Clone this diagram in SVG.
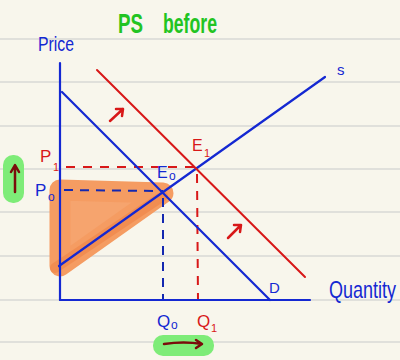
<svg xmlns="http://www.w3.org/2000/svg" width="400" height="360" viewBox="0 0 400 360">
<defs>
<style>
.rule{stroke:#d9d9d6;stroke-width:1.5}
.blue{stroke:#1428d2;stroke-width:2.2;fill:none;stroke-linecap:round}
.red{stroke:#d81818;stroke-width:2;fill:none;stroke-linecap:round}
.dashr{stroke:#d81818;stroke-width:2;stroke-dasharray:9 8;fill:none}
.dashb{stroke:#1428b0;stroke-width:2;stroke-dasharray:9 7;fill:none}
.arr{stroke:#d81818;stroke-width:2.5;fill:none;stroke-linecap:round;stroke-linejoin:round}
.darr{stroke:#7a0c0c;stroke-width:2.5;fill:none;stroke-linecap:round;stroke-linejoin:round}
text{font-family:"Liberation Sans","DejaVu Sans",sans-serif}
.tb{fill:#1428d2}
.tr{fill:#d81818}
.tg{fill:#22c422;font-weight:bold}
</style>
</defs>
<rect width="400" height="360" fill="#f8f6ec"/>
<g id="ruling">
<line class="rule" x1="0" y1="39" x2="400" y2="39"/>
<line class="rule" x1="0" y1="82" x2="400" y2="82"/>
<line class="rule" x1="0" y1="126" x2="400" y2="126"/>
<line class="rule" x1="0" y1="169" x2="400" y2="169"/>
<line class="rule" x1="0" y1="212" x2="400" y2="212"/>
<line class="rule" x1="0" y1="256" x2="400" y2="256"/>
<line class="rule" x1="0" y1="300" x2="400" y2="300"/>
<line class="rule" x1="0" y1="342" x2="400" y2="342"/>
</g>
<g id="title"><text class="tg" x="118" y="33" font-size="28" textLength="25" lengthAdjust="spacingAndGlyphs">PS</text><text class="tg" x="163" y="33" font-size="28" textLength="54" lengthAdjust="spacingAndGlyphs">before</text></g>
<g id="highlights">
<rect x="3" y="155" width="21" height="48" rx="10" fill="#7eec78"/>
<rect x="153" y="335" width="61" height="21" rx="10" fill="#7eec78"/>
<path class="darr" d="M15 192 V166 M11 172 L15 165 L19 172"/>
<path class="darr" d="M164 344 Q184 341 202 344 M196 340 L202 344 L196 348"/>
</g>
<g id="ps-area">
<polygon points="60,190 163,193 60,266" fill="#f6a46e" stroke="#f59c62" stroke-width="21" stroke-linejoin="round"/>
<line x1="55" y1="268" x2="163" y2="196" stroke="#f0884a" stroke-width="10" stroke-linecap="round" opacity="0.7"/>
</g>
<g id="connectors">
<line class="dashr" x1="66" y1="167" x2="196" y2="167"/>
<line class="dashb" x1="64" y1="190" x2="163" y2="191"/>
<line class="dashb" x1="163" y1="198" x2="163" y2="300"/>
<line class="dashr" x1="197" y1="174" x2="198" y2="300"/>
</g>
<g id="axes">
<line class="blue" x1="60" y1="63" x2="60" y2="300"/>
<line class="blue" x1="60" y1="300" x2="310" y2="300"/>
<text class="tb" x="38" y="51" font-size="20" textLength="36" lengthAdjust="spacingAndGlyphs">Price</text>
<text class="tb" transform="translate(329,298) scale(1,1.3)" font-size="18">Quantity</text>
</g>
<g id="demand">
<line class="blue" x1="62" y1="92" x2="270" y2="300"/>
<text class="tb" x="269" y="293" font-size="15">D</text>
</g>
<g id="supply">
<line class="blue" x1="59" y1="266" x2="325" y2="77"/>
<text class="tb" x="337" y="75" font-size="15">s</text>
</g>
<g id="demand-new">
<line class="red" x1="97" y1="70" x2="305" y2="277"/>
<path class="arr" d="M110 121 L123 109 M116 109 L123 109 L122 116"/>
<path class="arr" d="M228 238 L241 225 M234 225 L241 225 L240 232"/>
</g>
<g id="E0"><text class="tb" x="157" y="178" font-size="16">E</text><text class="tb" x="169" y="180" font-size="12">o</text></g>
<g id="E1"><text class="tr" x="192" y="151" font-size="16">E</text><text class="tr" x="204" y="157" font-size="11">1</text></g>
<g id="P1"><text class="tr" x="40" y="162" font-size="17">P</text><text class="tr" x="53" y="171" font-size="11">1</text></g>
<g id="P0"><text class="tb" x="35" y="196" font-size="17">P</text><text class="tb" x="48" y="201" font-size="12">o</text></g>
<g id="Q0"><text class="tb" x="157" y="327" font-size="17">Q</text><text class="tb" x="171" y="329" font-size="12">o</text></g>
<g id="Q1"><text class="tr" x="197" y="327" font-size="17">Q</text><text class="tr" x="211" y="332" font-size="11">1</text></g>
</svg>
